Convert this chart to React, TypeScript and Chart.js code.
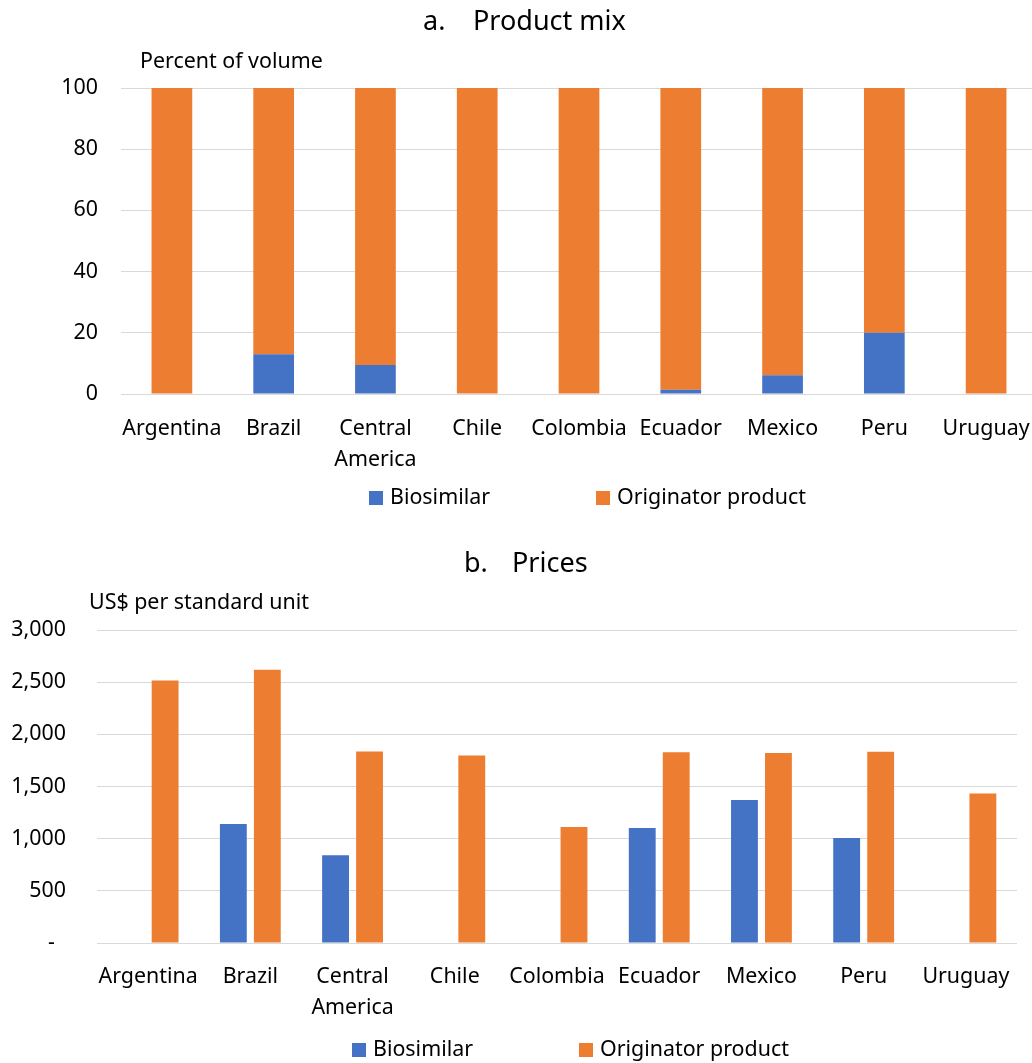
import { useEffect, useRef } from 'react';
import { Chart, registerables } from 'chart.js';

Chart.register(...registerables);

// Countries shown on both panels
const categories: (string | string[])[] = [
  'Argentina',
  'Brazil',
  ['Central', 'America'],
  'Chile',
  'Colombia',
  'Ecuador',
  'Mexico',
  'Peru',
  'Uruguay',
];

const seriesNames = ['Biosimilar', 'Originator product'];

// Panel a: share of volume, percent
const mixBiosimilar = [0, 13, 9.5, 0, 0, 1.4, 6.1, 20, 0];
const mixOriginator = [100, 87, 90.5, 100, 100, 98.6, 93.9, 80, 100];

// Panel b: US$ per standard unit
const priceBiosimilar = [null, 1141, 841, null, null, 1103, 1371, 1007, null];
const priceOriginator = [2516, 2618, 1835, 1797, 1112, 1829, 1822, 1832, 1432];

const mixTickMax = 100;
const mixTickStep = 20;
const priceTickMax = 3000;
const priceTickStep = 500;

const BLUE = '#4472C4';
const ORANGE = '#ED7D31';
const GRID = '#d9d9d9';
const TEXT = '#000000';
const FONT = "'Noto Sans', 'Open Sans', sans-serif";
const TEXT_SIZE = 21.4;

// Panel heading, unit caption and legend drawn onto the canvas
const decorPlugin = {
  id: 'decor',
  afterDraw(chart: any, _args: any, opts: any) {
    const ctx = chart.ctx as CanvasRenderingContext2D;
    ctx.save();
    ctx.fillStyle = TEXT;
    ctx.textAlign = 'left';
    ctx.textBaseline = 'middle';
    ctx.font = `27px ${FONT}`;
    ctx.fillText(opts.letter, opts.letterX, opts.titleY);
    ctx.fillText(opts.title, opts.titleX, opts.titleY);

    ctx.font = `${TEXT_SIZE}px ${FONT}`;
    ctx.textBaseline = 'alphabetic';
    ctx.fillText(opts.unit, opts.unitX, opts.unitY);

    ctx.textBaseline = 'middle';
    let x = opts.legendX;
    chart.data.datasets.forEach((ds: any) => {
      ctx.fillStyle = ds.backgroundColor;
      ctx.fillRect(x, opts.legendY - 7, 14, 14);
      ctx.fillStyle = TEXT;
      ctx.fillText(ds.label, x + 21, opts.legendY);
      x += 21 + ctx.measureText(ds.label).width + 106;
    });
    ctx.restore();
  },
};

function axisFont() {
  return { family: FONT, size: TEXT_SIZE, lineHeight: 1.42 };
}

function buildMixConfig(): any {
  return {
    type: 'bar',
    data: {
      labels: categories,
      datasets: [
        {
          label: seriesNames[0],
          data: mixBiosimilar,
          backgroundColor: BLUE,
          barPercentage: 0.4,
          categoryPercentage: 1,
        },
        {
          label: seriesNames[1],
          data: mixOriginator,
          backgroundColor: ORANGE,
          barPercentage: 0.4,
          categoryPercentage: 1,
        },
      ],
    },
    plugins: [decorPlugin],
    options: {
      responsive: false,
      animation: false,
      devicePixelRatio: 1,
      layout: { padding: { top: 88, left: 0, right: 13, bottom: 61 } },
      plugins: {
        legend: { display: false },
        title: { display: false },
        tooltip: { enabled: false },
        decor: {
          letter: 'a.',
          letterX: 423,
          title: 'Product mix',
          titleX: 473,
          titleY: 22,
          unit: 'Percent of volume',
          unitX: 140,
          unitY: 68,
          legendX: 369,
          legendY: 498,
        },
      },
      scales: {
        x: {
          stacked: true,
          grid: { display: false },
          border: { display: false },
          ticks: {
            color: TEXT,
            font: axisFont(),
            padding: 12,
            autoSkip: false,
            maxRotation: 0,
            minRotation: 0,
          },
          afterFit: (s: any) => {
            s.height = 80;
          },
        },
        y: {
          stacked: true,
          min: 0,
          max: mixTickMax,
          grid: { color: GRID, lineWidth: 1, drawTicks: false },
          border: { display: false },
          ticks: {
            stepSize: mixTickStep,
            color: TEXT,
            font: axisFont(),
            padding: 23,
          },
          afterFit: (s: any) => {
            s.width = 121;
          },
        },
      },
    },
  };
}

function buildPriceConfig(): any {
  return {
    type: 'bar',
    data: {
      labels: categories,
      datasets: [
        {
          label: seriesNames[0],
          data: priceBiosimilar,
          backgroundColor: BLUE,
          barPercentage: 0.79,
          categoryPercentage: 0.665,
        },
        {
          label: seriesNames[1],
          data: priceOriginator,
          backgroundColor: ORANGE,
          barPercentage: 0.79,
          categoryPercentage: 0.665,
        },
      ],
    },
    plugins: [decorPlugin],
    options: {
      responsive: false,
      animation: false,
      devicePixelRatio: 1,
      layout: { padding: { top: 100, left: 0, right: 33, bottom: 67 } },
      plugins: {
        legend: { display: false },
        title: { display: false },
        tooltip: { enabled: false },
        decor: {
          letter: 'b.',
          letterX: 464,
          title: 'Prices',
          titleX: 512,
          titleY: 34,
          unit: 'US$ per standard unit',
          unitX: 89,
          unitY: 79,
          legendX: 352,
          legendY: 520,
        },
      },
      scales: {
        x: {
          grid: { display: false },
          border: { display: false },
          ticks: {
            color: TEXT,
            font: axisFont(),
            padding: 11,
            autoSkip: false,
            maxRotation: 0,
            minRotation: 0,
          },
          afterFit: (s: any) => {
            s.height = 80;
          },
        },
        y: {
          min: 0,
          max: priceTickMax,
          grid: { color: GRID, lineWidth: 1, drawTicks: false },
          border: { display: false },
          ticks: {
            stepSize: priceTickStep,
            color: TEXT,
            font: axisFont(),
            padding: 31,
            callback: (v: any) => (Number(v) === 0 ? '-  ' : Number(v).toLocaleString('en-US')),
          },
          afterFit: (s: any) => {
            s.width = 97;
          },
        },
      },
    },
  };
}

function ChartPanel({
  build,
  top,
  width,
  height,
}: {
  build: () => any;
  top: number;
  width: number;
  height: number;
}) {
  const ref = useRef<HTMLCanvasElement | null>(null);
  useEffect(() => {
    if (!ref.current) return;
    const chart = new Chart(ref.current, build());
    return () => chart.destroy();
  }, [build]);
  return (
    <canvas
      ref={ref}
      width={width}
      height={height}
      style={{ position: 'absolute', left: 0, top, width, height, display: 'block' }}
    />
  );
}

export default function App() {
  return (
    <div
      style={{
        position: 'absolute',
        left: 0,
        top: 0,
        width: 1032,
        height: 1063,
        overflow: 'hidden',
        background: '#ffffff',
      }}
    >
      <ChartPanel build={buildMixConfig} top={0} width={1050} height={535} />
      <ChartPanel build={buildPriceConfig} top={530} width={1050} height={560} />
    </div>
  );
}
